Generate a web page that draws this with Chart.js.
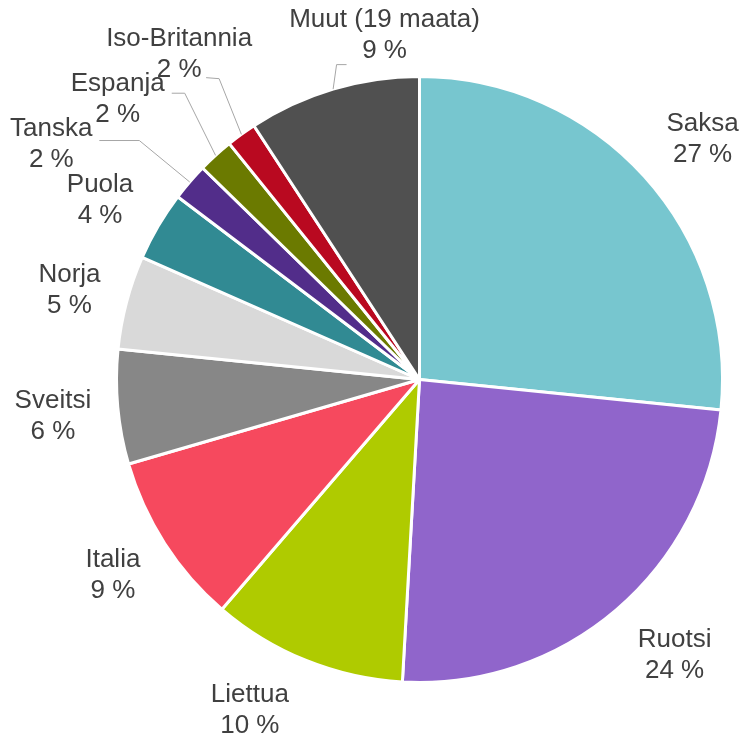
<!DOCTYPE html>
<html>
<head>
<meta charset="utf-8">
<script src="https://cdn.jsdelivr.net/npm/chart.js@4"></script>
<style>
  html, body { margin: 0; padding: 0; background: #fff; }
  #wrap { width: 745px; height: 740px; }
</style>
</head>
<body>
<div id="wrap"><canvas id="pie" width="745" height="740"></canvas></div>
<script>
// Data
const countries = ['Saksa', 'Ruotsi', 'Liettua', 'Italia', 'Sveitsi', 'Norja', 'Puola', 'Tanska', 'Espanja', 'Iso-Britannia', 'Muut (19 maata)'];
const shares = [26.6, 24.3, 10.4, 9.2, 6.1, 5.0, 3.7, 2.0, 1.9, 1.6, 9.2];
const sliceColors = ['#77c6cf', '#9065cb', '#afcb00', '#f6495e', '#878787', '#d9d9d9', '#318a93', '#522d8a', '#6b7a00', '#b90920', '#505050'];

// label nudges from the default spot (px), and leader lines for the crowded ones
const labelShift = [[10, 7], [16, -4], [-32, -11], [3, -3], [0, 3], [6, 5], [-2, 7], [-89, 5], [-54, -8], [-24, -27], [70, 9]];
const leaders = {
  7: { elbow: [88, -4], end: [48, -4] },
  8: { elbow: [67, -6], end: [54, -6] },
  9: { elbow: [40, 24], end: [27, 23] },
  10: { elbow: [-48, 29], end: [-38, 29] }
};

const labelPlugin = {
  id: 'sliceLabels',
  afterDatasetsDraw(chart) {
    const c = chart.ctx;
    const arcs = chart.getDatasetMeta(0).data;
    const total = shares.reduce((a, b) => a + b, 0);
    c.save();
    arcs.forEach((arc, i) => {
      const mid = (arc.startAngle + arc.endAngle) / 2;
      const r = arc.outerRadius;
      const lx = arc.x + Math.cos(mid) * r * 1.215 + labelShift[i][0];
      const ly = arc.y + Math.sin(mid) * r * 1.215 + labelShift[i][1];

      const ld = leaders[i];
      if (ld) {
        c.strokeStyle = '#a6a6a6';
        c.lineWidth = 1;
        c.beginPath();
        c.moveTo(arc.x + Math.cos(mid) * r, arc.y + Math.sin(mid) * r);
        c.lineTo(lx + ld.elbow[0], ly + ld.elbow[1]);
        c.lineTo(lx + ld.end[0], ly + ld.end[1]);
        c.stroke();
      }

      c.fillStyle = '#404040';
      c.font = '26px "Liberation Sans", Arial, sans-serif';
      c.textAlign = 'center';
      c.textBaseline = 'middle';
      c.fillText(countries[i], lx, ly - 15.5);
      c.fillText(Math.round(shares[i] / total * 100) + ' %', lx, ly + 15.5);
    });
    c.restore();
  }
};

new Chart(document.getElementById('pie').getContext('2d'), {
  type: 'pie',
  data: {
    labels: countries,
    datasets: [{
      data: shares,
      backgroundColor: sliceColors,
      borderColor: '#ffffff',
      borderWidth: 3
    }]
  },
  options: {
    responsive: false,
    animation: false,
    layout: { padding: { left: 115, right: 21, top: 75, bottom: 56 } },
    plugins: {
      legend: { display: false },
      tooltip: { enabled: false }
    }
  },
  plugins: [labelPlugin]
});
</script>
</body>
</html>
